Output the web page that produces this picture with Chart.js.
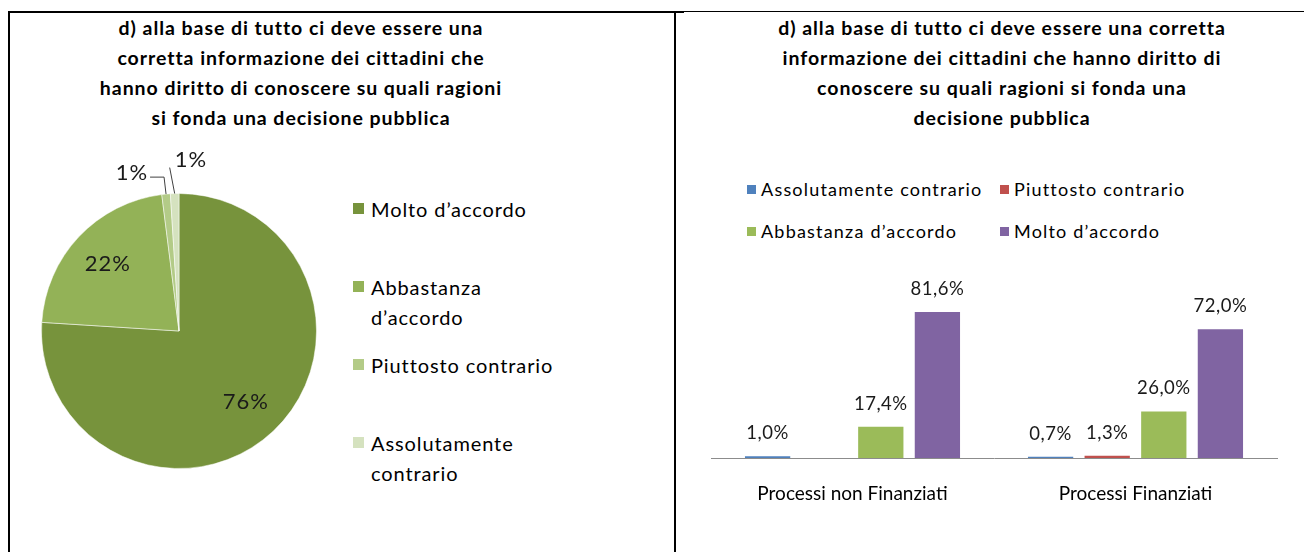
<!DOCTYPE html>
<html>
<head>
<meta charset="utf-8">
<script src="https://cdn.jsdelivr.net/npm/chart.js@4.4.1/dist/chart.umd.min.js"></script>
<style>
  body { margin: 0; width: 1308px; height: 552px; overflow: hidden; background: #fff; position: relative;
         font-family: Lato, "Open Sans", sans-serif; color: #000; }
  .rule { position: absolute; background: #000; }
  .title { position: absolute; text-align: center; font-weight: bold; font-size: 19.5px; line-height: 30px;
           white-space: nowrap; letter-spacing: 0.95px; }
  canvas { position: absolute; }
  #pieLegend { position: absolute; left: 353px; top: 194px; }
  #pieLegend .item { display: flex; align-items: flex-start; height: 78px; }
  #pieLegend .sw { width: 11px; height: 11px; margin: 9px 7px 0 0; flex: none; }
  #pieLegend .txt { font-size: 20px; line-height: 30px; width: 196px; letter-spacing: 0.9px; }
  #barLegend { position: absolute; left: 747px; top: 177px; display: grid;
               grid-template-columns: 253px auto; row-gap: 18px; }
  #barLegend .item { display: flex; align-items: center; font-size: 18px; line-height: 24px; white-space: nowrap;
                     letter-spacing: 1.2px; }
  #barLegend .sw { width: 9px; height: 9px; margin-right: 5px; flex: none; }
</style>
</head>
<body>
<div class="rule" style="left:8px;top:11px;width:676px;height:2px"></div>
<div class="rule" style="left:684px;top:11px;width:620px;height:1px"></div>
<div class="rule" style="left:8px;top:11px;width:2px;height:541px"></div>
<div class="rule" style="left:674px;top:11px;width:2px;height:541px"></div>

<div class="title" style="left:81px;top:13px;width:440px">d) alla base di tutto ci deve essere una<br>corretta informazione dei cittadini che<br>hanno diritto di conoscere su quali ragioni<br>si fonda una decisione pubblica</div>
<div class="title" style="left:712px;top:13px;width:580px">d) alla base di tutto ci deve essere una corretta<br>informazione dei cittadini che hanno diritto di<br>conoscere su quali ragioni si fonda una<br>decisione pubblica</div>

<canvas id="pie" width="318" height="340" style="left:20px;top:140px"></canvas>
<div id="pieLegend"></div>

<div id="barLegend"></div>
<canvas id="bar" width="610" height="270" style="left:690px;top:250px"></canvas>

<script>
// pie: share of answers
const pieLabels = ["Molto d\u2019accordo", "Abbastanza d\u2019accordo", "Piuttosto contrario", "Assolutamente contrario"];
const pieValues = [76, 22, 1, 1];
const pieColors = ["#77933C", "#93B257", "#B3CB87", "#D5E2BF"];

// bars: answers by process type (%)
const barCategories = ["Processi non Finanziati", "Processi Finanziati"];
const barSeries = ["Assolutamente contrario", "Piuttosto contrario", "Abbastanza d\u2019accordo", "Molto d\u2019accordo"];
const assolutamenteContrario = [1.0, 0.7];
const piuttostoContrario = [0, 1.3];
const abbastanzaAccordo = [17.4, 26.0];
const moltoAccordo = [81.6, 72.0];
const barColors = ["#4F81BD", "#C0504D", "#9BBB59", "#8064A2"];

const FONT = "Lato, 'Open Sans', sans-serif";

// legends (html so the wrapping matches the original)
const pl = document.getElementById("pieLegend");
pieLabels.forEach((l, i) => {
  const d = document.createElement("div");
  d.className = "item";
  d.innerHTML = `<span class="sw" style="background:${pieColors[i]}"></span><span class="txt">${l}</span>`;
  pl.appendChild(d);
});
const bl = document.getElementById("barLegend");
barSeries.forEach((l, i) => {
  const d = document.createElement("div");
  d.className = "item";
  d.innerHTML = `<span class="sw" style="background:${barColors[i]}"></span>${l}`;
  bl.appendChild(d);
});

// pie labels: inside for big slices, callouts for the tiny ones
const pieLabelPlugin = {
  id: "pieLabels",
  afterDatasetsDraw(chart) {
    const ctx = chart.ctx;
    const meta = chart.getDatasetMeta(0);
    const vals = chart.data.datasets[0].data;
    const total = vals.reduce((a, b) => a + b, 0);
    ctx.save();
    ctx.font = "22px " + FONT;
    ctx.letterSpacing = "1px";
    ctx.fillStyle = "#1a1a1a";
    ctx.strokeStyle = "#404040";
    ctx.lineWidth = 1;
    let small = 0;
    meta.data.forEach((arc, i) => {
      const p = arc.getProps(["x", "y", "startAngle", "endAngle", "outerRadius"], true);
      const mid = (p.startAngle + p.endAngle) / 2;
      const txt = Math.round(vals[i] / total * 100) + "%";
      if (vals[i] / total > 0.05) {
        ctx.textAlign = "center";
        ctx.textBaseline = "middle";
        ctx.fillText(txt, p.x + Math.cos(mid) * p.outerRadius * 0.71, p.y + Math.sin(mid) * p.outerRadius * 0.71);
        return;
      }
      const ex = p.x + Math.cos(mid) * p.outerRadius;
      const ey = p.y + Math.sin(mid) * p.outerRadius;
      ctx.beginPath();
      if (small === 0) {
        ctx.moveTo(ex, ey);
        ctx.lineTo(ex - 2, ey - 17);
        ctx.lineTo(ex - 16, ey - 17);
        ctx.stroke();
        ctx.textAlign = "right";
        ctx.textBaseline = "middle";
        ctx.fillText(txt, ex - 18, ey - 21);
      } else {
        ctx.moveTo(ex, ey);
        ctx.lineTo(ex - 5, ey - 26);
        ctx.stroke();
        ctx.textAlign = "left";
        ctx.textBaseline = "middle";
        ctx.fillText(txt, ex, ey - 34);
      }
      small++;
    });
    ctx.restore();
  }
};

new Chart(document.getElementById("pie"), {
  type: "pie",
  data: {
    labels: pieLabels,
    datasets: [{ data: pieValues, backgroundColor: pieColors, borderColor: "rgba(255,255,255,0.5)", borderWidth: 1 }]
  },
  options: {
    responsive: false,
    animation: false,
    layout: { padding: { left: 21, right: 21, top: 53, bottom: 11 } },
    plugins: { legend: { display: false }, tooltip: { enabled: false } }
  },
  plugins: [pieLabelPlugin]
});

// value labels above bars, skip empty ones
const barLabelPlugin = {
  id: "barLabels",
  afterDatasetsDraw(chart) {
    const ctx = chart.ctx;
    ctx.save();
    ctx.font = "18.5px " + FONT;
    ctx.letterSpacing = "0.5px";
    ctx.fillStyle = "#1a1a1a";
    ctx.textAlign = "center";
    ctx.textBaseline = "middle";
    chart.data.datasets.forEach((ds, di) => {
      chart.getDatasetMeta(di).data.forEach((bar, i) => {
        const v = ds.data[i];
        if (!v) return;
        ctx.fillText(v.toFixed(1).replace(".", ",") + "%", bar.x, bar.y - 23);
      });
    });
    ctx.restore();
  }
};

const seriesData = [assolutamenteContrario, piuttostoContrario, abbastanzaAccordo, moltoAccordo];
new Chart(document.getElementById("bar"), {
  type: "bar",
  data: {
    labels: barCategories,
    datasets: barSeries.map((name, i) => ({
      label: name,
      data: seriesData[i],
      backgroundColor: barColors[i],
      categoryPercentage: 0.8,
      barPercentage: 0.8
    }))
  },
  options: {
    responsive: false,
    animation: false,
    layout: { padding: { left: 21, right: 23, top: 47, bottom: 0 } },
    plugins: { legend: { display: false }, tooltip: { enabled: false } },
    scales: {
      y: { display: false, min: 0, max: 90 },
      x: {
        grid: { display: false, drawTicks: false },
        border: { display: true, color: "#8c8c8c", width: 1 },
        ticks: { color: "#000", font: { family: FONT, size: 19 }, padding: 24 },
        afterFit(scale) { scale.height = 62; }
      }
    }
  },
  plugins: [barLabelPlugin]
});
</script>
</body>
</html>
